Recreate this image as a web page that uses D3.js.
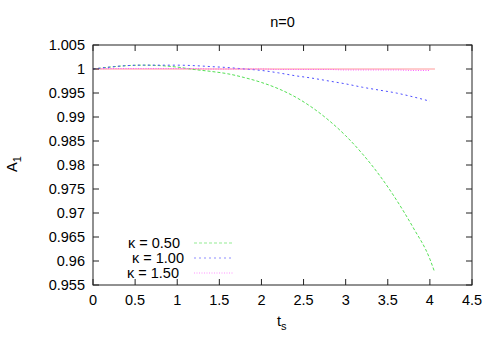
<!DOCTYPE html>
<html><head><meta charset="utf-8">
<script src="https://cdn.jsdelivr.net/npm/d3@7"></script>
<style>body{margin:0;background:#fff}svg{font-family:"Liberation Sans",Arial,sans-serif}</style>
</head><body><svg id="c" width="500" height="350"></svg>
<script>
const title = "n=0";
const xTicks = [0,0.5,1,1.5,2,2.5,3,3.5,4,4.5];
const xTickLabels = ["0","0.5","1","1.5","2","2.5","3","3.5","4","4.5"];
const yTicks = [0.955,0.96,0.965,0.97,0.975,0.98,0.985,0.99,0.995,1,1.005];
const yTickLabels = ["0.955","0.96","0.965","0.97","0.975","0.98","0.985","0.99","0.995","1","1.005"];
const tGrid = [0,0.2,0.4,0.6,0.8,1.0,1.2,1.4,1.6,1.8,2.0,2.2,2.4,2.6,2.8,3.0,3.2,3.4,3.6,3.8,4.0];
const tGreen = [0,0.2,0.4,0.6,0.8,1.0,1.2,1.4,1.6,1.8,2.0,2.2,2.4,2.6,2.8,3.0,3.2,3.4,3.6,3.8,4.0,4.05];
const kappa050 = [1.0,1.0004,1.0007,1.0008,1.0007,1.0004,0.9999,0.9995,0.9990,0.9982,0.9972,0.9959,0.9942,0.9920,0.9893,0.9861,0.9823,0.9779,0.9728,0.9670,0.9604,0.9580];
const kappa100 = [1.0,1.0004,1.0007,1.0008,1.0008,1.0008,1.0007,1.0005,1.0003,1.0000,0.9997,0.9992,0.9986,0.9981,0.9975,0.9969,0.9962,0.9956,0.9950,0.9942,0.9933];
const kappa150 = [1.0,1.0001,1.0001,1.0001,1.0001,1.0001,1.0001,1.0000,1.0000,1.0000,1.0000,0.9999,0.9999,0.9999,0.9999,0.9998,0.9998,0.9998,0.9998,0.9997,0.9997];
const tRef = [0,4.06];
const refLine = [1,1];
const legendLabels = ["κ = 0.50","κ = 1.00","κ = 1.50"];

const svg = d3.select("#c");
const L=93, R=472, T=45, B=285;
const x = d3.scaleLinear().domain([0,4.5]).range([L,R]);
const y = d3.scaleLinear().domain([0.955,1.005]).range([B,T]);
const line = d3.line().curve(d3.curveMonotoneX).x(d=>x(d[0])).y(d=>y(d[1]));

const series = [
  {t:tRef, v:refLine, color:"#ff9a9a", dash:null, w:1.2},
  {t:tGreen, v:kappa050, color:"#55e055", dash:"3,2", w:1},
  {t:tGrid, v:kappa100, color:"#4d4dff", dash:"2,3", w:1},
  {t:tGrid, v:kappa150, color:"#ff55ff", dash:"1,1.5", w:1}
];
series.forEach(s=>{
  svg.append("path").attr("d", line(s.t.map((t,i)=>[t,s.v[i]])))
    .attr("fill","none").attr("stroke",s.color).attr("stroke-width",s.w)
    .attr("stroke-dasharray",s.dash);
});

const g = svg.append("g").attr("stroke","#222").attr("stroke-width",1);
xTicks.forEach(v=>{
  g.append("line").attr("x1",x(v)).attr("x2",x(v)).attr("y1",B).attr("y2",B-6);
  g.append("line").attr("x1",x(v)).attr("x2",x(v)).attr("y1",T).attr("y2",T+6);
});
yTicks.forEach(v=>{
  g.append("line").attr("x1",L).attr("x2",L+6).attr("y1",y(v)).attr("y2",y(v));
  g.append("line").attr("x1",R).attr("x2",R-6).attr("y1",y(v)).attr("y2",y(v));
});
svg.append("rect").attr("x",L).attr("y",T).attr("width",R-L).attr("height",B-T)
  .attr("fill","none").attr("stroke","#222").attr("stroke-width",1);

const fs = 14.5;
xTicks.forEach((v,i)=>{
  svg.append("text").attr("x",x(v)).attr("y",305).attr("text-anchor","middle")
    .attr("font-size",fs).text(xTickLabels[i]);
});
yTicks.forEach((v,i)=>{
  svg.append("text").attr("x",85).attr("y",y(v)+5).attr("text-anchor","end")
    .attr("font-size",fs).text(yTickLabels[i]);
});

svg.append("text").attr("x",(L+R)/2).attr("y",27).attr("text-anchor","middle")
  .attr("font-size",fs).text(title);

const xl = svg.append("text").attr("x",277).attr("y",326).attr("font-size",fs);
xl.append("tspan").text("t");
xl.append("tspan").attr("dy",4).attr("font-size",11).text("s");

const yl = svg.append("text").attr("transform","translate(17,172) rotate(-90)").attr("font-size",fs);
yl.append("tspan").text("A");
yl.append("tspan").attr("dy",4).attr("font-size",11).text("1");

const legX = [180,184,179], legY=[243,258,273];
series.slice(1).forEach((s,i)=>{
  svg.append("text").attr("x",legX[i]).attr("y",legY[i]+5).attr("text-anchor","end")
    .attr("font-size",fs).text(legendLabels[i]);
  svg.append("line").attr("x1",194).attr("x2",233).attr("y1",legY[i]).attr("y2",legY[i])
    .attr("stroke",s.color).attr("stroke-width",0.8).attr("stroke-opacity",0.8)
    .attr("stroke-dasharray",s.dash);
});
</script></body></html>
